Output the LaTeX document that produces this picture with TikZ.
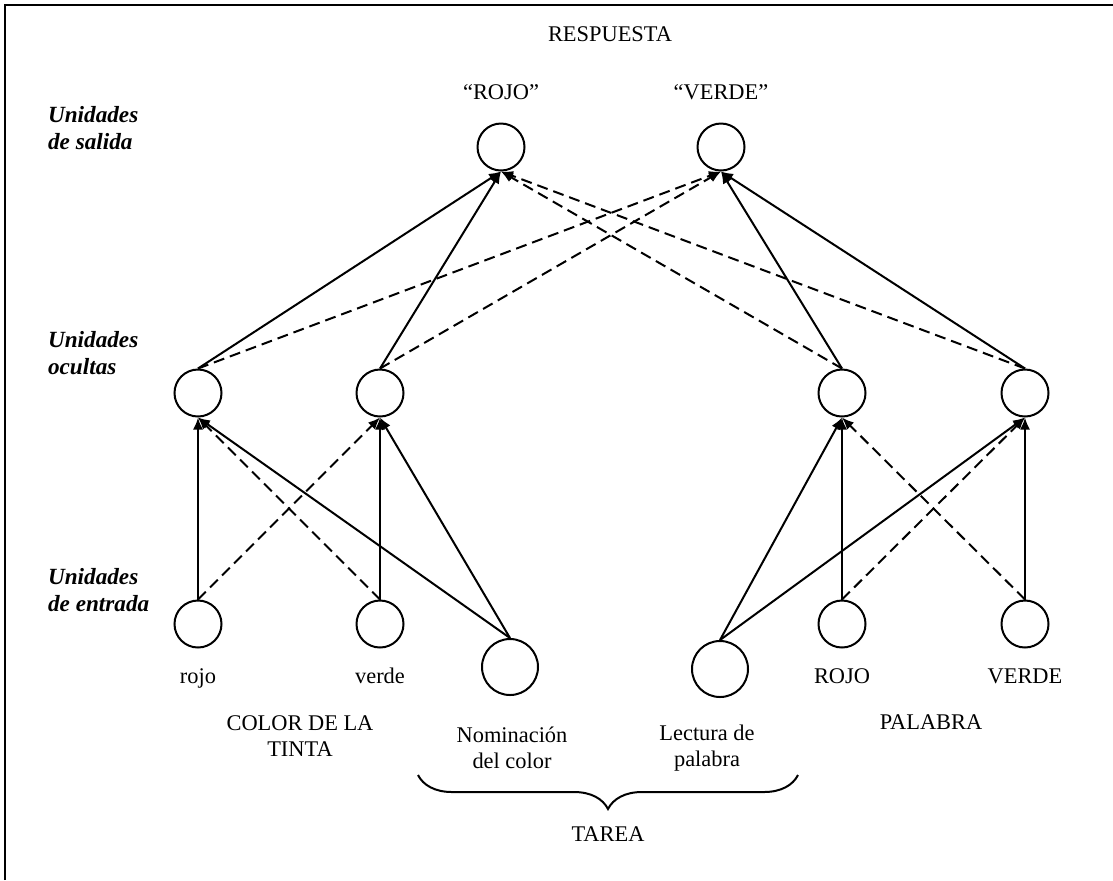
\documentclass[tikz,border=0pt]{standalone}
\usepackage{fontspec}
\setmainfont{Liberation Serif}
\usetikzlibrary{arrows.meta,decorations.pathreplacing}

\begin{document}
\begin{tikzpicture}[x=0.5pt,y=-0.5pt,>={Latex[length=6pt,width=5pt]},
  font=\fontsize{11.2}{13}\selectfont,
  neuron/.style={circle,draw,line width=1pt,minimum size=23.5pt,inner sep=0pt},
  bigneuron/.style={neuron,minimum size=28pt},
  link/.style={->,line width=1pt},
  dlink/.style={->,line width=1pt,dash pattern=on 5.5pt off 3pt},
  layername/.style={anchor=west,align=left,font=\fontsize{11.6}{13.5}\selectfont\bfseries\itshape}]
  \useasboundingbox (0,0) rectangle (1113,880);
  % frame
  \draw[line width=1pt] (5,880)--(5,5)--(1113,5);
  % layer names
  \node[layername] (lblOut) at (41,128){Unidades\\de salida};
  \node[layername] (lblHid) at (41,353){Unidades\\ocultas};
  \node[layername] (lblIn) at (41,590){Unidades\\de entrada};
  % output units
  \node (resp) at (610,34){RESPUESTA};
  \node[neuron] (outRojo) at (501,147){};
  \node[neuron] (outVerde) at (721,147){};
  \node (txtRojo) at (501,92){“ROJO”};
  \node (txtVerde) at (721,92){“VERDE”};
  % hidden units
  \node[neuron] (hidA) at (198,393){};
  \node[neuron] (hidB) at (380,393){};
  \node[neuron] (hidC) at (842,393){};
  \node[neuron] (hidD) at (1025,393){};
  % input units
  \node[neuron] (inRojo) at (198,624){};
  \node[neuron] (inVerde) at (380,624){};
  \node[bigneuron] (inColor) at (510,667){};
  \node[bigneuron] (inLect) at (720,669){};
  \node[neuron] (inROJO) at (842,624){};
  \node[neuron] (inVERDE) at (1025,624){};
  \node[anchor=base] (txtInRojo) at (198,683){rojo};
  \node[anchor=base] (txtInVerde) at (380,683){verde};
  \node[anchor=base] (txtInROJO) at (842,683){ROJO};
  \node[anchor=base] (txtInVERDE) at (1025,683){VERDE};
  % groups
  \node[align=center] (tinta) at (300,736){COLOR DE LA\\TINTA};
  \node (palabra) at (931,722){PALABRA};
  \node[align=center] (nomin) at (512,748){Nominación\\del color};
  \node[align=center] (lect) at (707,748){Lectura de\\palabra};
  \coordinate (braceR) at (798,775);
  \coordinate (braceL) at (418,775);
  \draw[line width=1pt,decorate,decoration={brace,amplitude=17pt}] (braceR)--(braceL);
  \node (tarea) at (608,834){TAREA};
  % hidden -> output
  \draw[link] (hidA.north)--(outRojo.south);
  \draw[dlink] (hidA.north)--(outVerde.south);
  \draw[link] (hidB.north)--(outRojo.south);
  \draw[dlink] (hidB.north)--(outVerde.south);
  \draw[link] (hidC.north)--(outVerde.south);
  \draw[dlink] (hidC.north)--(outRojo.south);
  \draw[link] (hidD.north)--(outVerde.south);
  \draw[dlink] (hidD.north)--(outRojo.south);
  % input -> hidden
  \draw[link] (inRojo.north)--(hidA.south);
  \draw[dlink] (inRojo.north)--(hidB.south);
  \draw[link] (inVerde.north)--(hidB.south);
  \draw[dlink] (inVerde.north)--(hidA.south);
  \draw[link] (inColor.north)--(hidA.south);
  \draw[link] (inColor.north)--(hidB.south);
  \draw[link] (inLect.north)--(hidC.south);
  \draw[link] (inLect.north)--(hidD.south);
  \draw[link] (inROJO.north)--(hidC.south);
  \draw[dlink] (inROJO.north)--(hidD.south);
  \draw[link] (inVERDE.north)--(hidD.south);
  \draw[dlink] (inVERDE.north)--(hidC.south);
\end{tikzpicture}
\end{document}
